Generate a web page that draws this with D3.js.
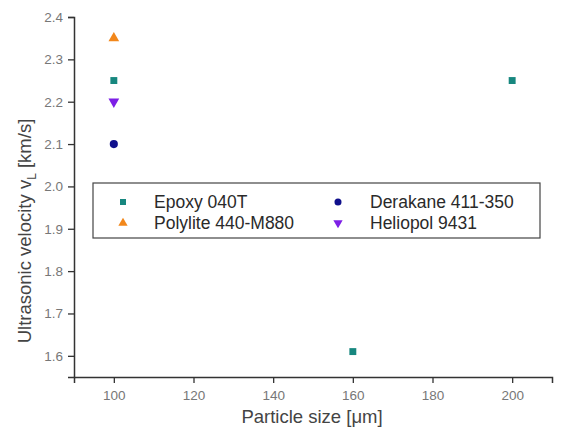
<!DOCTYPE html>
<html>
<head>
<meta charset="utf-8">
<script src="https://cdn.jsdelivr.net/npm/d3@7"></script>
<style>
  body { margin: 0; background: #fff; }
  text { font-family: "Liberation Sans", Arial, sans-serif; }
</style>
</head>
<body>
<svg id="chart" width="569" height="433"></svg>
<script>
// data
const seriesNames = ["Epoxy 040T", "Polylite 440-M880", "Derakane 411-350", "Heliopol 9431"];
const epoxy = [[100, 2.25], [160, 1.61], [200, 2.25]];
const polylite = [[100, 2.35]];
const derakane = [[100, 2.10]];
const heliopol = [[100, 2.20]];
const xTicks = [100, 120, 140, 160, 180, 200];
const yTicks = [1.6, 1.7, 1.8, 1.9, 2.0, 2.1, 2.2, 2.3, 2.4];

const series = [
  { name: seriesNames[0], pts: epoxy, color: "#17877f", shape: d3.symbolSquare, size: 48, rot: 0 },
  { name: seriesNames[1], pts: polylite, color: "#f2871b", shape: d3.symbolTriangle, size: 50, rot: 0 },
  { name: seriesNames[2], pts: derakane, color: "#10108c", shape: d3.symbolCircle, size: 52, rot: 0 },
  { name: seriesNames[3], pts: heliopol, color: "#7d1fe6", shape: d3.symbolTriangle, size: 50, rot: 180 }
];

const svg = d3.select("#chart");
const plotL = 74, plotR = 552, plotT = 17, plotB = 377;

const x = d3.scaleLinear().domain([90, 210]).range([plotL, plotR]);
const y = d3.scaleLinear().domain([1.55, 2.4]).range([plotB, plotT]);

const axisColor = "#333";
const labelColor = "#777";

// minor ticks
const xMinor = d3.range(90, 211, 10);
const yMinor = d3.range(1.55, 2.401, 0.05);

const gx = svg.append("g").attr("transform", `translate(0,${plotB})`);
gx.call(d3.axisBottom(x).tickValues(xMinor).tickSize(3).tickFormat(""));
gx.call(d3.axisBottom(x).tickValues(xTicks).tickSize(6).tickPadding(7).tickFormat(d3.format("d")));
gx.selectAll("path.domain").attr("stroke", axisColor).attr("stroke-width", 1.5);
gx.selectAll("line").attr("stroke", axisColor).attr("stroke-width", 1.3);
gx.selectAll("text").attr("fill", labelColor).attr("font-size", 13.5);

const gy = svg.append("g").attr("transform", `translate(${plotL},0)`);
gy.call(d3.axisLeft(y).tickValues(yMinor).tickSize(3).tickFormat(""));
gy.call(d3.axisLeft(y).tickValues(yTicks).tickSize(6).tickPadding(5).tickFormat(d3.format(".1f")));
gy.selectAll("path.domain").attr("stroke", axisColor).attr("stroke-width", 1.5);
gy.selectAll("line").attr("stroke", axisColor).attr("stroke-width", 1.3);
gy.selectAll("text").attr("fill", labelColor).attr("font-size", 13.5);

// axis titles
svg.append("text")
  .attr("x", 312).attr("y", 423)
  .attr("text-anchor", "middle").attr("font-size", 18.5).attr("fill", "#444")
  .text("Particle size [μm]");

const yt = svg.append("text")
  .attr("transform", `translate(31,231) rotate(-90)`)
  .attr("text-anchor", "middle").attr("font-size", 18.5).attr("fill", "#444");
yt.append("tspan").text("Ultrasonic velocity v");
yt.append("tspan").attr("font-size", 12).attr("dy", 5).text("L");
yt.append("tspan").attr("dy", -5).text(" [km/s]");

// markers
series.forEach(s => {
  svg.append("g").selectAll("path")
    .data(s.pts)
    .join("path")
    .attr("d", d3.symbol(s.shape, s.size))
    .attr("transform", d => `translate(${x(d[0])},${y(d[1])}) rotate(${s.rot})`)
    .attr("fill", s.color);
});

// legend
const legend = svg.append("g");
legend.append("rect")
  .attr("x", 93).attr("y", 183).attr("width", 447).attr("height", 55)
  .attr("fill", "#fff").attr("stroke", "#444").attr("stroke-width", 1.2);

const legendPos = [
  { sx: 123, tx: 154, y: 202 },
  { sx: 123, tx: 154, y: 223 },
  { sx: 338, tx: 370, y: 202 },
  { sx: 338, tx: 370, y: 223 }
];
series.forEach((s, i) => {
  const p = legendPos[i];
  legend.append("path")
    .attr("d", d3.symbol(s.shape, s.size * 0.75))
    .attr("transform", `translate(${p.sx},${p.y}) rotate(${s.rot})`)
    .attr("fill", s.color);
  legend.append("text")
    .attr("x", p.tx).attr("y", p.y + 6)
    .attr("font-size", 17.5).attr("fill", "#2a2a2a")
    .text(s.name);
});
</script>
</body>
</html>
